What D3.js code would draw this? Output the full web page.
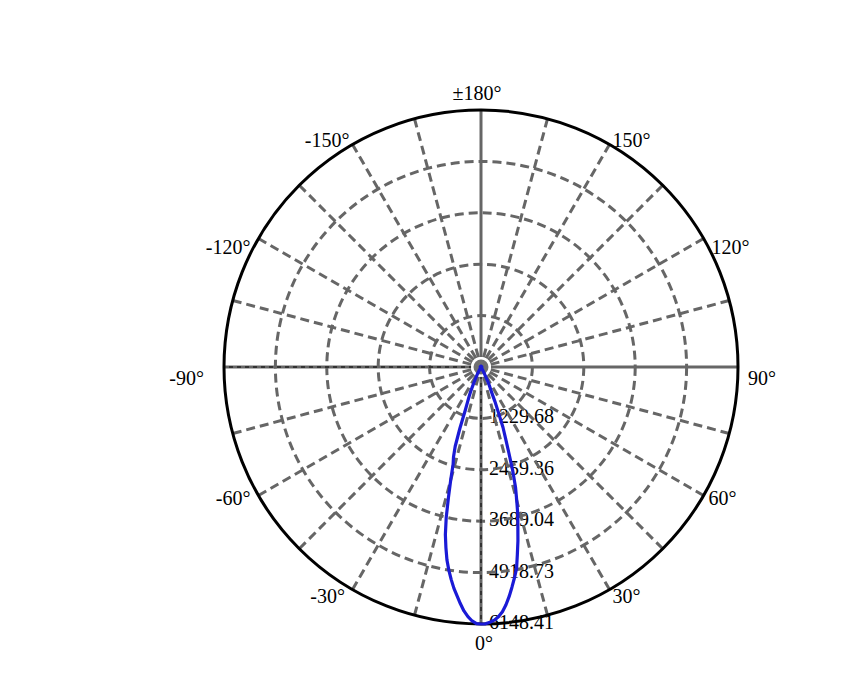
<!DOCTYPE html>
<html>
<head>
<meta charset="utf-8">
<script src="https://cdn.jsdelivr.net/npm/d3@7/dist/d3.min.js"></script>
<style>
  html, body { margin: 0; padding: 0; background: #fff; }
  svg { display: block; }
  text { font-family: "Liberation Serif", "DejaVu Serif", serif; font-size: 20px; fill: #000; }
</style>
</head>
<body>
<svg id="chart" width="844" height="694"></svg>
<script>
// ---- data ----
const ringValues = [1229.68, 2459.36, 3689.04, 4918.73, 6148.41];
const ringLabels = ["1229.68", "2459.36", "3689.04", "4918.73", "6148.41"];
const tickAngles = [0, 30, 60, 90, 120, 150, 180, -150, -120, -90, -60, -30];
const tickLabels = ["0°", "30°", "60°", "90°", "120°", "150°", "±180°", "-150°", "-120°", "-90°", "-60°", "-30°"];
const spokeAngles = d3.range(0, 360, 15);
const curveAngles = [-180, -150, -120, -90, -60, -45, -35, -30, -27, -25, -24, -23, -22, -21, -20, -19, -18, -17, -16, -15, -14, -13, -12, -11, -10, -9, -8, -7, -6, -5, -4, -3, -2, -1, 0,
  1, 2, 3, 4, 5, 6, 7, 8, 9, 10, 11, 12, 13, 14, 15, 16, 17, 18, 19, 20, 21, 22, 23, 24, 25, 26, 28, 30, 35, 45, 60, 90, 120, 150];
const curveValues = [20, 20, 20, 20, 20, 20, 25, 40, 180, 330, 450, 620, 760, 900, 1100, 1550, 2000, 2250, 2420, 2800, 3220, 3700, 4100, 4400, 4690, 4920, 5130, 5330, 5500, 5680, 5850, 5980, 6080, 6140, 6148.41,
  6145, 6110, 6065, 5990, 5880, 5720, 5530, 5320, 5110, 4900, 4560, 4250, 3920, 3640, 3300, 3000, 2600, 2150, 1800, 1540, 1150, 880, 620, 500, 400, 260, 140, 60, 25, 20, 20, 20, 20, 20];

// ---- layout ----
const cx = 481, cy = 367, R = 257;
const gray = "#666666";
const svg = d3.select("#chart");
svg.append("rect").attr("width", 844).attr("height", 694).attr("fill", "#fff");
const g = svg.append("g").attr("transform", `translate(${cx},${cy})`);

const r = d3.scaleLinear().domain([0, d3.max(ringValues)]).range([0, R]);
// angle: 0° points down, positive toward the right
const toRad = a => Math.PI - a * Math.PI / 180;
const pt = (a, rad) => [rad * Math.sin(toRad(a)), -rad * Math.cos(toRad(a))];

// ring value labels (drawn beneath grid and curve)
g.selectAll("text.ring").data(ringValues).join("text")
  .attr("class", "ring")
  .attr("x", 8)
  .attr("y", d => r(d) + 5)
  .attr("text-anchor", "start")
  .text((d, i) => ringLabels[i]);

// dashed rings
g.selectAll("circle.ring").data(ringValues.slice(0, -1)).join("circle")
  .attr("r", d => r(d))
  .attr("fill", "none")
  .attr("stroke", gray)
  .attr("stroke-width", 3)
  .attr("stroke-dasharray", "9,5");

// spokes
g.selectAll("line.spoke").data(spokeAngles).join("line")
  .attr("x1", d => pt(d, 10)[0]).attr("y1", d => pt(d, 10)[1])
  .attr("x2", d => pt(d, R)[0]).attr("y2", d => pt(d, R)[1])
  .attr("stroke", gray)
  .attr("stroke-width", 3)
  .attr("stroke-dasharray", d => d % 90 === 0 ? null : "9,5");

// thin black dashed overlays on lower and left half-axes
g.selectAll("line.axis").data([0, 270]).join("line")
  .attr("x1", 0).attr("y1", 0)
  .attr("x2", d => pt(d, R)[0]).attr("y2", d => pt(d, R)[1])
  .attr("stroke", "#000")
  .attr("stroke-width", 1)
  .attr("stroke-dasharray", "4,4");

// outer circle
g.append("circle").attr("r", R).attr("fill", "none").attr("stroke", "#000").attr("stroke-width", 3);

// center marker
g.append("circle").attr("r", 10).attr("fill", "#fff");
g.append("circle").attr("r", 7.5).attr("fill", "#707070");

// angle labels
const labelOffset = a => {
  const m = Math.abs(a);
  const side = a === 0 || m === 180 ? 0 : (a > 0 ? 1 : -1);
  const table = {0: [3, 26], 30: [7, 13], 60: [7, 9.5], 90: [13, 18], 120: [8, 15], 150: [3, 3], 180: [-4, -10]};
  const [dx, dy] = table[m];
  return {dx: side === 0 ? dx : side * dx, dy, anchor: side === 0 ? "middle" : (side > 0 ? "start" : "end")};
};
g.selectAll("text.tick").data(tickAngles).join("text")
  .attr("class", "tick")
  .each(function(d, i) {
    const o = labelOffset(d);
    const p = pt(d, R);
    let dx = o.dx;
    if (d === -90) dx = -20;
    if (d === -60) dx = -8;
    if (d === -30) dx = -7.5;
    if (d === 30) dx = 3;
    if (d === 60) dx = 5;
    if (d === 90) dx = 10;
    d3.select(this)
      .attr("x", p[0] + dx)
      .attr("y", p[1] + o.dy)
      .attr("text-anchor", o.anchor)
      .text(tickLabels[i]);
  });

// intensity curve
const pts = curveAngles.map((a, i) => ({a, v: curveValues[i]}));
const line = d3.lineRadial()
  .angle(d => toRad(d.a))
  .radius(d => r(d.v))
  .curve(d3.curveLinearClosed);
g.append("path")
  .datum(pts)
  .attr("d", line)
  .attr("fill", "none")
  .attr("stroke", "#1a1ad6")
  .attr("stroke-width", 3.2)
  .attr("stroke-linejoin", "round");
</script>
</body>
</html>
